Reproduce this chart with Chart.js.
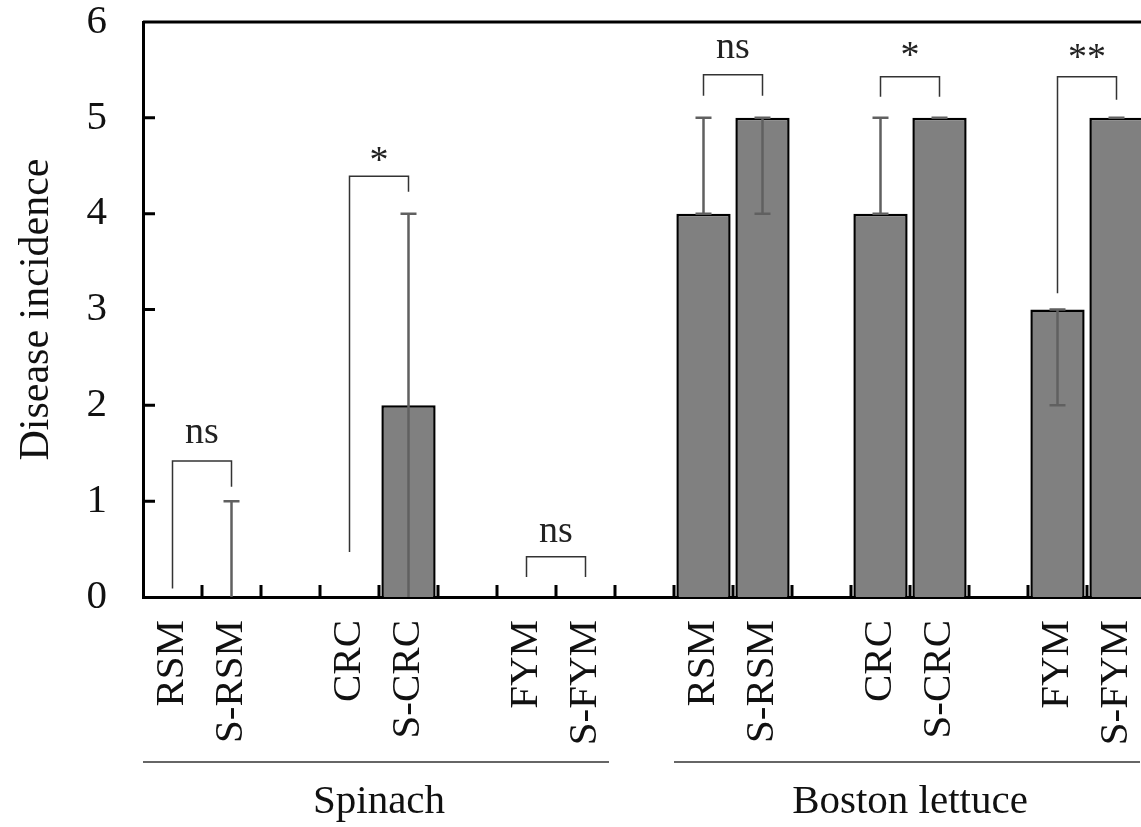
<!DOCTYPE html>
<html>
<head>
<meta charset="utf-8">
<script src="https://cdn.jsdelivr.net/npm/chart.js@4/dist/chart.umd.min.js"></script>
<style>
  html, body { margin: 0; padding: 0; background: #fff; overflow: hidden; }
  #wrap { width: 1146px; height: 827px; }
</style>
</head>
<body>
<div id="wrap"><canvas id="chart"></canvas></div>
<script>
// treatments, empty slots are the gaps between pairs
const categories = ['RSM', 'S-RSM', '', 'CRC', 'S-CRC', '', 'FYM', 'S-FYM', '',
                    'RSM', 'S-RSM', '', 'CRC', 'S-CRC', '', 'FYM', 'S-FYM'];
const incidence = [0, 0, null, 0, 2, null, 0, 0, null, 4, 5, null, 4, 5, null, 3, 5];
const errLow    = [0, 0, null, 0, 0, null, 0, 0, null, 4, 4, null, 4, 5, null, 2, 5];
const errHigh   = [0, 1, null, 0, 4, null, 0, 0, null, 5, 5, null, 5, 5, null, 3, 5];
const yTicks = [0, 1, 2, 3, 4, 5, 6];

// crop groups under the axis
const groups = [
    { label: 'Spinach', from: 0, to: 7 },
    { label: 'Boston lettuce', from: 9, to: 16 }
];

// significance brackets (category index / value units)
const brackets = [
    { from: 0, to: 1, top: 1.42, left: 0.09, right: 1.15, text: 'ns', base: 1.61 },
    { from: 3, to: 4, top: 4.39, left: 0.47, right: 4.23, text: '*', base: 4.43 },
    { from: 6, to: 7, top: 0.42, left: 0.21, right: 0.21, text: 'ns', base: 0.57 },
    { from: 9, to: 10, top: 5.45, left: 5.23, right: 5.23, text: 'ns', base: 5.62 },
    { from: 12, to: 13, top: 5.43, left: 5.22, right: 5.22, text: '*', base: 5.53 },
    { from: 15, to: 16, top: 5.43, left: 3.17, right: 5.19, text: '**', base: 5.51 }
];

const FONT = '"Liberation Serif", "Times New Roman", serif';

const decorations = {
    id: 'decorations',
    afterDatasetsDraw(chart) {
        const { ctx, scales: { x, y } } = chart;
        ctx.save();

        // error bars
        ctx.strokeStyle = '#606060';
        ctx.lineWidth = 2.5;
        incidence.forEach((v, i) => {
            if (v === null || (v === 0 && errHigh[i] === 0)) return;
            const px = x.getPixelForValue(i);
            ctx.beginPath();
            ctx.moveTo(px, y.getPixelForValue(errLow[i]));
            ctx.lineTo(px, y.getPixelForValue(errHigh[i]));
            [errLow[i], errHigh[i]].forEach(e => {
                if (e > 0) {
                    const py = y.getPixelForValue(e);
                    ctx.moveTo(px - 8, py);
                    ctx.lineTo(px + 8, py);
                }
            });
            ctx.stroke();
        });

        // brackets
        ctx.strokeStyle = '#333';
        ctx.lineWidth = 1.5;
        ctx.fillStyle = '#222';
        ctx.font = '38px ' + FONT;
        ctx.textAlign = 'center';
        ctx.textBaseline = 'alphabetic';
        brackets.forEach(b => {
            const x1 = x.getPixelForValue(b.from);
            const x2 = x.getPixelForValue(b.to);
            ctx.beginPath();
            ctx.moveTo(x1, y.getPixelForValue(b.left));
            ctx.lineTo(x1, y.getPixelForValue(b.top));
            ctx.lineTo(x2, y.getPixelForValue(b.top));
            ctx.lineTo(x2, y.getPixelForValue(b.right));
            ctx.stroke();
            ctx.fillText(b.text, (x1 + x2) / 2, y.getPixelForValue(b.base));
        });
        ctx.restore();
    },
    afterDraw(chart) {
        const { ctx, chartArea, scales: { x, y } } = chart;
        ctx.save();
        ctx.strokeStyle = '#000';

        // top frame line
        ctx.lineWidth = 3;
        ctx.beginPath();
        ctx.moveTo(chartArea.left, chartArea.top);
        ctx.lineTo(chartArea.right + 5, chartArea.top);
        ctx.stroke();

        // inward ticks
        ctx.lineWidth = 3;
        ctx.beginPath();
        yTicks.forEach(t => {
            if (t === 0 || t === 6) return;
            const py = y.getPixelForValue(t);
            ctx.moveTo(chartArea.left, py);
            ctx.lineTo(chartArea.left + 12, py);
        });
        const half = (x.getPixelForValue(1) - x.getPixelForValue(0)) / 2;
        for (let i = 1; i < categories.length; i++) {
            const px = x.getPixelForValue(i) - half;
            ctx.moveTo(px, chartArea.bottom);
            ctx.lineTo(px, chartArea.bottom - 12);
        }
        ctx.stroke();

        // group lines + names
        ctx.lineWidth = 1.5;
        ctx.strokeStyle = '#333';
        ctx.fillStyle = '#111';
        ctx.font = '41px ' + FONT;
        ctx.textAlign = 'center';
        ctx.textBaseline = 'middle';
        groups.forEach(g => {
            const x1 = x.getPixelForValue(g.from) - half;
            const x2 = x.getPixelForValue(g.to) + half;
            ctx.beginPath();
            ctx.moveTo(x1, 762);
            ctx.lineTo(x2 - 6, 762);
            ctx.stroke();
            ctx.fillText(g.label, (x1 + x2) / 2, 802);
        });
        ctx.restore();
    }
};

new Chart('chart', {
    type: 'bar',
    data: {
        labels: categories,
        datasets: [{
            label: 'Disease incidence',
            data: incidence,
            backgroundColor: '#808080',
            borderColor: '#000',
            borderWidth: ctx => (ctx.raw ? 2.5 : 0),
            barPercentage: 0.92,
            categoryPercentage: 1
        }]
    },
    options: {
        responsive: true,
        maintainAspectRatio: false,
        animation: false,
        layout: { padding: { top: 22, right: 0, bottom: 0, left: 0 } },
        plugins: {
            legend: { display: false },
            tooltip: { enabled: false }
        },
        scales: {
            x: {
                offset: true,
                grid: { display: false, drawTicks: false },
                border: { display: true, color: '#000', width: 3 },
                ticks: {
                    autoSkip: false,
                    maxRotation: 90,
                    minRotation: 90,
                    padding: 23,
                    color: '#111',
                    font: { family: FONT, size: 41 }
                },
                afterFit: scale => {
                    scale.height = 230;
                    scale.paddingLeft = 0;
                    scale.paddingRight = 0;
                }
            },
            y: {
                min: 0,
                max: 6,
                grid: { display: false, drawTicks: false },
                border: { display: true, color: '#000', width: 3 },
                ticks: {
                    stepSize: 1,
                    padding: 36,
                    color: '#111',
                    font: { family: FONT, size: 41 }
                },
                title: {
                    display: true,
                    text: 'Disease incidence',
                    color: '#111',
                    font: { family: FONT, size: 42 },
                    padding: { top: 12, bottom: 0 }
                },
                afterFit: scale => {
                    scale.width = 143;
                    scale.paddingTop = 0;
                    scale.paddingBottom = 0;
                }
            }
        }
    },
    plugins: [decorations]
});
</script>
</body>
</html>
